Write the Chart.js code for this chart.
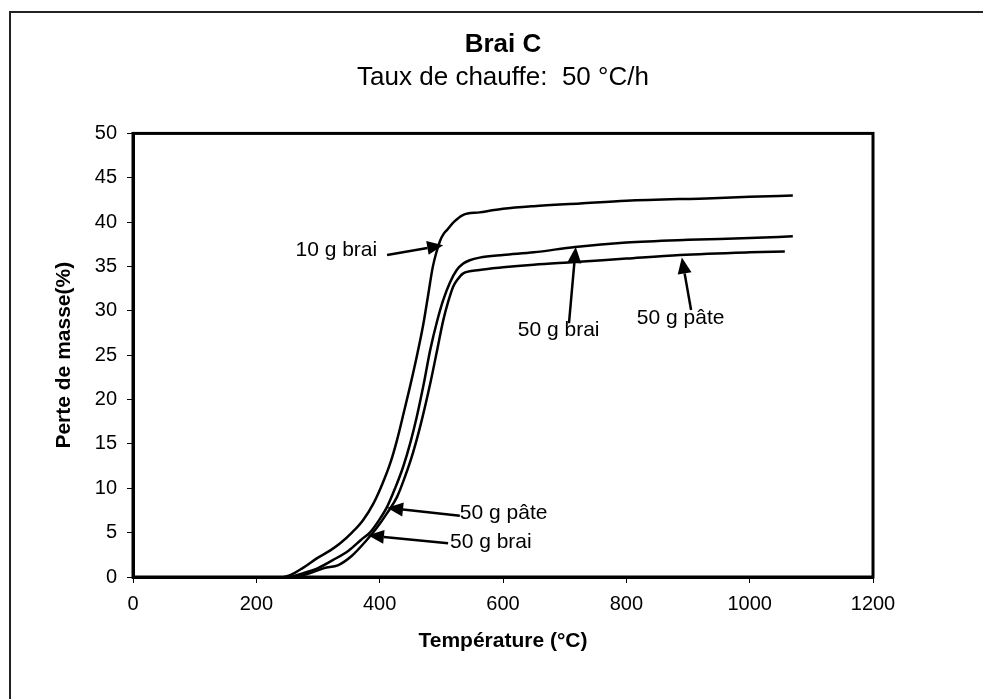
<!DOCTYPE html>
<html>
<head>
<meta charset="utf-8">
<script src="https://cdn.jsdelivr.net/npm/chart.js@4.4.1/dist/chart.umd.min.js"></script>
<style>
  html, body { margin: 0; padding: 0; background: #fff; }
  #wrap { width: 983px; height: 699px; }
</style>
</head>
<body>
<div id="wrap"><canvas id="myChart" width="983" height="699"></canvas></div>
<script>
"use strict";
// temperature (°C) / mass loss (%)
const temp10gBrai = [245, 255, 275, 298, 320, 336, 355, 373, 390, 405, 418, 428, 440, 449, 460, 470, 478, 486, 492, 498, 504, 509, 520, 535, 562, 600, 650, 725, 800, 940, 1000, 1070];
const loss10gBrai = [0, 0.2, 1.0, 2.1, 3.0, 3.8, 5.0, 6.4, 8.3, 10.6, 13.0, 15.4, 18.8, 21.4, 24.8, 28.2, 31.5, 34.9, 36.6, 37.9, 38.7, 39.1, 40.0, 40.8, 41.1, 41.5, 41.8, 42.1, 42.4, 42.7, 42.85, 43.0];

const temp50gBrai = [255, 275, 300, 324, 350, 370, 384, 398, 412, 425, 438, 450, 460, 471, 482, 493, 503, 514, 525, 535, 546, 562, 600, 650, 717, 800, 900, 1000, 1070];
const loss50gBrai = [0, 0.4, 1.0, 1.9, 3.0, 4.2, 5.0, 6.3, 7.9, 10.0, 12.4, 15.2, 18.0, 21.6, 25.6, 28.8, 31.2, 33.2, 34.6, 35.3, 35.7, 36.0, 36.3, 36.6, 37.2, 37.7, 38.0, 38.2, 38.4];

const temp50gPate = [265, 285, 310, 333, 355, 377, 396, 412, 428, 441, 454, 468, 482, 493, 503, 511, 519, 527, 535, 562, 600, 650, 717, 800, 887, 1000, 1057];
const loss50gPate = [0, 0.4, 1.0, 1.35, 2.4, 4.0, 5.6, 7.2, 9.0, 11.3, 14.0, 17.6, 21.8, 25.5, 28.9, 31.0, 32.7, 33.6, 34.2, 34.6, 34.9, 35.2, 35.5, 35.9, 36.3, 36.6, 36.7];

// axis ticks
const xTicks = [0, 200, 400, 600, 800, 1000, 1200];
const yTicks = [0, 5, 10, 15, 20, 25, 30, 35, 40, 45, 50];

// callouts: label, where the label sits, arrow tail and arrow tip (data units)
const calloutText = ["10 g brai", "50 g brai", "50 g pâte", "50 g pâte", "50 g brai"];
const calloutLabelAt = [[396, 36.8], [624, 27.8], [817, 29.2], [530, 7.2], [514, 3.9]];
const calloutAlign = ["right", "left", "left", "left", "left"];
const calloutTail = [[412, 36.3], [707, 28.6], [905, 30.1], [530, 6.9], [511, 3.8]];
const calloutTip = [[503, 37.4], [718, 37.2], [890, 36.0], [412, 7.8], [381, 4.7]];

const FONT = "'Liberation Sans', Arial, sans-serif";

const toPoints = (xs, ys) => xs.map((x, i) => ({x: x, y: ys[i]}));

const frameAndBox = {
    id: "frameAndBox",
    beforeDraw(chart) {
        const ctx = chart.ctx;
        ctx.save();
        ctx.fillStyle = "#fff";
        ctx.fillRect(0, 0, chart.width, chart.height);
        ctx.strokeStyle = "#222";
        ctx.lineWidth = 2;
        ctx.beginPath();
        ctx.moveTo(10, chart.height);
        ctx.lineTo(10, 12);
        ctx.lineTo(chart.width, 12);
        ctx.stroke();
        ctx.restore();
    },
    afterDatasetsDraw(chart) {
        const ctx = chart.ctx;
        const a = chart.chartArea;
        ctx.save();
        ctx.strokeStyle = "#000";
        ctx.lineWidth = 3;
        ctx.strokeRect(a.left, a.top, a.right - a.left, a.bottom - a.top);
        ctx.restore();
    }
};

const callouts = {
    id: "callouts",
    afterDraw(chart) {
        const ctx = chart.ctx;
        const sx = chart.scales.x, sy = chart.scales.y;
        const px = (p) => [sx.getPixelForValue(p[0]), sy.getPixelForValue(p[1])];
        ctx.save();
        ctx.fillStyle = "#000";
        ctx.strokeStyle = "#000";
        ctx.font = "21px " + FONT;
        ctx.textBaseline = "middle";
        calloutText.forEach((txt, i) => {
            const [tx, ty] = px(calloutTail[i]);
            const [hx, hy] = px(calloutTip[i]);
            const ang = Math.atan2(hy - ty, hx - tx);
            const len = 16, half = 7;
            const bx = hx - len * Math.cos(ang), by = hy - len * Math.sin(ang);
            ctx.lineWidth = 2.5;
            ctx.beginPath();
            ctx.moveTo(tx, ty);
            ctx.lineTo(bx, by);
            ctx.stroke();
            ctx.beginPath();
            ctx.moveTo(hx, hy);
            ctx.lineTo(bx + half * Math.sin(ang), by - half * Math.cos(ang));
            ctx.lineTo(bx - half * Math.sin(ang), by + half * Math.cos(ang));
            ctx.closePath();
            ctx.fill();
            const [lx, ly] = px(calloutLabelAt[i]);
            ctx.textAlign = calloutAlign[i];
            ctx.fillText(txt, lx, ly);
        });
        ctx.restore();
    }
};

const lineStyle = {
    borderColor: "#000",
    borderWidth: 2.5,
    pointRadius: 0,
    fill: false,
    cubicInterpolationMode: "monotone"
};

const chart = new Chart(document.getElementById("myChart"), {
    type: "scatter",
    data: {
        datasets: [
            {label: "10 g brai", data: toPoints(temp10gBrai, loss10gBrai), showLine: true, ...lineStyle},
            {label: "50 g brai", data: toPoints(temp50gBrai, loss50gBrai), showLine: true, ...lineStyle},
            {label: "50 g pâte", data: toPoints(temp50gPate, loss50gPate), showLine: true, ...lineStyle}
        ]
    },
    options: {
        responsive: false,
        animation: false,
        devicePixelRatio: 1,
        layout: {padding: {left: 0, right: 110, top: 0, bottom: 22}},
        plugins: {
            legend: {display: false},
            tooltip: {enabled: false},
            title: {
                display: true,
                text: "Brai C",
                color: "#000",
                fullSize: false,
                font: {family: FONT, size: 26, weight: "bold"},
                padding: {top: 29, bottom: 1}
            },
            subtitle: {
                display: true,
                text: "Taux de chauffe:  50 °C/h",
                color: "#000",
                fullSize: false,
                font: {family: FONT, size: 26},
                padding: {top: 1, bottom: 40}
            }
        },
        scales: {
            x: {
                type: "linear",
                min: 0,
                max: 1200,
                afterBuildTicks: (s) => { s.ticks = xTicks.map(v => ({value: v})); },
                afterFit: (s) => { s.height = 100; },
                grid: {display: true, drawOnChartArea: false, drawTicks: true, tickLength: 6, color: "#000", lineWidth: 1},
                border: {display: true, color: "#000", width: 3},
                ticks: {color: "#000", padding: 9, font: {family: FONT, size: 20}, callback: (v) => String(v)},
                title: {
                    display: true,
                    text: "Température (°C)",
                    color: "#000",
                    font: {family: FONT, size: 21, weight: "bold"},
                    padding: {top: 0, bottom: 23}
                }
            },
            y: {
                type: "linear",
                min: 0,
                max: 50,
                afterBuildTicks: (s) => { s.ticks = yTicks.map(v => ({value: v})); },
                afterFit: (s) => { s.width = 133; },
                grid: {display: true, drawOnChartArea: false, drawTicks: true, tickLength: 6, color: "#000", lineWidth: 1},
                border: {display: true, color: "#000", width: 3},
                ticks: {color: "#000", padding: 10, font: {family: FONT, size: 20}, callback: (v) => String(v)},
                title: {
                    display: true,
                    text: "Perte de masse(%)",
                    color: "#000",
                    font: {family: FONT, size: 21, weight: "bold"},
                    padding: {top: 52, bottom: 0}
                }
            }
        }
    },
    plugins: [frameAndBox, callouts]
});
</script>
</body>
</html>
